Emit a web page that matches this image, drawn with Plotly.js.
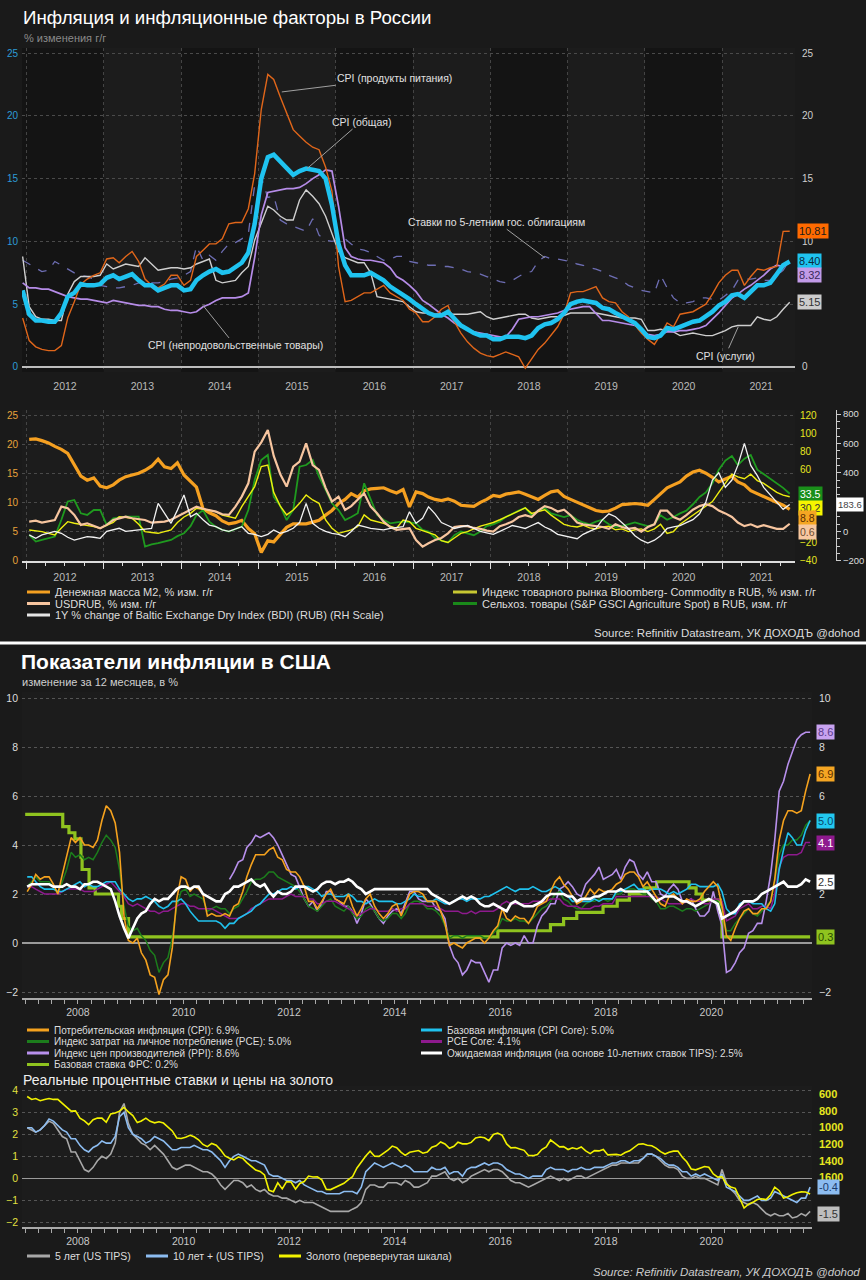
<!DOCTYPE html>
<html><head><meta charset="utf-8">
<script src="https://cdn.plot.ly/plotly-3.0.1.min.js"></script>
<style>html,body{margin:0;padding:0;background:#1a1a1a;}#chart{width:866px;height:1280px;}</style>
</head><body><div id="chart"></div>
<script>
// ===== Russia: CPI panel (monthly, Dec 2011 - Nov 2021) =====
const ruCpiTotal = [6.1,
4.2,3.7,3.7,3.6,3.6,4.3,5.6,5.9,6.6,6.5,6.5,6.6,
7.1,7.3,7.0,7.2,7.4,6.9,6.5,6.5,6.1,6.3,6.5,6.5,
6.1,6.2,6.9,7.3,7.6,7.8,7.5,7.6,8.0,8.3,9.1,11.4,
15.0,16.7,16.9,16.4,15.8,15.3,15.6,15.8,15.7,15.6,15.0,12.9,
9.8,8.1,7.3,7.3,7.3,7.5,7.2,6.9,6.4,6.1,5.8,5.4,
5.0,4.6,4.3,4.1,4.1,4.4,3.9,3.3,3.0,2.7,2.5,2.5,
2.2,2.2,2.4,2.4,2.4,2.3,2.5,3.1,3.4,3.5,3.8,4.3,
5.0,5.2,5.3,5.2,5.1,4.7,4.6,4.3,4.0,3.8,3.5,3.0,
2.4,2.3,2.5,3.1,3.0,3.2,3.4,3.6,3.7,4.0,4.4,4.9,
5.2,5.7,5.8,5.5,6.0,6.5,6.5,6.7,7.4,8.1,8.4];
const ruCpiFood = [3.9,
2.1,1.6,1.4,1.3,1.3,1.7,3.9,5.2,6.6,7.0,7.3,7.5,
8.6,8.7,8.3,8.8,9.2,8.4,7.0,6.5,6.3,6.6,7.3,7.3,
6.5,6.9,8.8,9.3,9.8,9.8,10.2,11.4,11.5,11.5,12.6,15.4,
20.5,23.3,22.9,21.5,20.2,18.9,18.4,17.9,17.5,17.3,15.9,14.0,
8.0,5.2,5.3,5.6,5.9,5.9,6.2,6.5,5.9,5.6,5.3,4.6,
4.3,3.6,3.6,4.0,4.6,4.9,3.6,2.7,2.0,1.5,1.1,0.9,
0.8,1.0,1.2,1.0,0.8,-0.1,0.6,1.4,1.9,2.5,3.2,4.2,
5.9,6.0,6.0,6.2,6.4,5.5,5.2,5.1,4.4,4.0,3.3,2.7,
2.2,1.8,2.6,3.5,3.2,4.2,4.3,4.4,4.7,5.0,5.8,6.7,
7.3,7.7,7.7,6.5,7.2,7.8,7.7,7.9,8.0,10.8,10.81];
const ruCpiNonfood = [6.7,
6.3,6.3,6.2,6.2,6.0,5.8,5.6,5.5,5.4,5.4,5.3,5.2,
5.1,5.3,5.2,5.1,5.0,4.9,4.9,4.8,4.8,4.6,4.5,4.5,
4.4,4.3,4.4,4.8,5.0,5.3,5.5,5.5,5.5,5.6,5.9,8.7,
12.1,13.9,14.0,14.1,14.2,14.2,14.3,14.6,15.0,15.3,15.7,15.6,
12.8,9.5,8.8,8.6,8.5,8.5,8.4,8.3,7.9,7.2,6.9,6.5,
6.0,5.3,5.0,4.6,4.2,3.9,3.5,3.2,3.0,2.8,2.7,2.6,
2.5,2.4,2.4,3.0,3.8,3.9,4.0,4.0,4.1,4.2,4.3,4.5,
4.6,4.7,4.8,4.8,4.3,3.7,3.7,3.6,3.5,3.4,3.3,3.0,
2.6,2.5,2.6,2.8,2.8,2.9,2.9,3.0,3.1,3.3,3.8,4.3,
4.9,5.5,5.8,6.2,6.5,6.9,7.3,7.8,8.1,8.0,8.32];
const ruCpiServices = [8.8,
4.8,4.0,3.8,3.8,3.7,3.7,5.8,6.8,7.2,7.2,7.2,7.3,
8.2,7.8,8.0,8.2,8.1,8.0,8.7,8.2,7.7,7.8,7.9,7.9,
7.8,7.9,8.2,8.4,8.6,6.9,6.7,6.8,6.9,7.5,8.0,10.1,
11.5,12.8,12.5,12.0,11.7,11.7,13.3,14.1,13.6,13.0,12.0,10.6,
9.2,8.7,8.5,8.3,8.3,7.5,5.6,5.5,5.4,5.3,5.2,4.8,
4.4,4.3,4.3,4.2,4.2,4.2,4.2,4.2,4.2,4.3,4.4,4.0,
3.8,3.9,4.0,4.1,4.2,4.2,3.9,3.8,3.9,4.0,4.0,4.1,
4.3,4.3,4.3,4.3,4.3,4.2,4.1,4.0,3.9,3.9,3.9,3.8,
2.9,2.9,3.0,2.9,2.8,2.5,2.6,2.7,2.6,2.5,2.5,2.7,
2.9,3.2,3.3,3.3,3.3,4.0,3.8,3.7,4.0,4.6,5.15];
const ruBond5y = [8.5,
8.2,7.9,7.6,7.7,8.4,8.1,7.8,7.5,7.3,7.2,7.0,6.5,
6.4,6.3,6.3,6.4,6.5,6.7,6.7,6.7,6.7,6.8,7.0,7.1,
7.3,7.6,9.6,8.5,8.9,8.5,9.2,9.8,9.9,10.2,10.6,14.5,
15.1,13.5,13.6,11.7,11.4,11.2,11.0,10.8,11.8,10.5,10.1,10.0,
10.1,10.2,9.8,9.4,9.3,9.1,8.8,8.5,8.6,8.8,8.8,8.4,
8.3,8.2,8.1,8.1,8.0,8.0,7.9,7.8,7.6,7.5,7.4,7.2,
7.0,6.8,6.7,6.9,7.2,7.5,7.6,8.4,8.8,8.6,8.6,8.5,
8.4,8.2,8.1,7.9,7.8,7.6,7.3,7.1,6.9,6.5,6.3,6.1,
6.0,5.9,7.3,6.3,5.5,5.1,5.1,5.2,5.5,5.5,5.4,5.3,
5.7,6.1,6.9,7.0,7.0,7.1,6.9,6.9,7.3,7.7,8.5];

// ===== Russia: factors panel (monthly, Jan 2012 - Nov 2021) =====
const ruM2 = [20.8,20.9,20.6,20.2,19.6,19.1,18.4,16.5,14.5,13.8,14.2,12.8,
12.5,13.0,13.8,14.4,14.7,15.0,15.5,16.2,17.4,16.1,15.8,16.8,
14.7,13.5,12.6,8.9,8.2,7.7,6.8,6.3,6.5,6.9,5.5,4.6,
1.4,3.4,3.2,4.5,5.7,6.3,6.3,6.3,6.6,6.9,7.8,8.6,
9.8,10.5,11.5,10.9,12.0,12.3,12.4,12.5,12.0,11.6,12.2,9.2,
11.8,11.5,10.9,10.5,10.3,10.6,10.2,9.5,9.4,9.3,10.0,10.5,
11.2,11.0,11.4,11.6,11.8,11.4,11.0,10.5,11.2,11.8,12.0,11.0,
10.5,10.0,9.5,9.0,8.6,8.4,8.5,9.0,9.6,9.7,9.8,9.7,
9.5,10.5,11.5,12.5,13.0,13.5,14.5,15.2,15.5,15.0,14.3,13.5,
14.0,14.5,13.5,13.0,12.0,11.5,11.0,10.5,10.0,9.5,8.8];
const ruUsdRub = [3.0,4.0,1.8,3.0,4.7,19.4,17.6,10.3,-0.7,1.1,-2.0,-4.4,
-0.7,4.7,6.5,8.4,6.6,5.5,4.7,1.8,2.5,2.9,5.0,8.4,
12.0,15.7,19.4,17.0,15.7,13.9,11.0,10.3,19.4,30.4,45.0,79.8,
90.0,103.5,75.0,55.0,41.4,63.3,68.8,88.9,65.0,59.7,40.0,25.0,
30.4,15.7,20.0,26.7,34.1,19.4,12.1,2.9,-3.0,-6.2,-5.0,-4.4,
-17.2,-24.5,-20.8,-17.2,-15.0,-10.0,-3.0,-2.0,-2.0,-4.0,-5.0,-7.0,
-8.0,-2.0,0.0,3.0,8.0,10.0,8.0,15.0,20.0,18.0,14.0,16.0,
10.0,2.0,0.0,-1.0,-2.0,-3.0,-5.0,0.0,-3.0,-5.0,-4.0,-8.0,
-3.0,0.0,15.0,15.0,8.0,5.0,10.0,16.0,20.0,22.0,20.0,15.0,
12.0,8.0,2.0,-2.0,0.0,-3.0,-1.0,-3.0,-5.0,-5.0,0.6];
const ruBcomRub = [-6.2,-7.0,-8.0,-10.0,-11.7,-4.0,2.9,1.1,0.0,-0.7,-2.5,-4.4,
-1.5,2.0,8.4,7.5,6.6,0.0,-8.0,-9.0,-9.9,-8.0,-6.2,2.0,
8.0,12.0,17.6,16.5,15.0,13.9,10.0,8.0,6.6,19.4,30.0,41.4,
63.3,65.1,35.0,20.0,10.3,15.7,23.0,32.2,26.7,23.0,4.7,-4.4,
-9.9,-8.0,-6.2,-2.5,10.3,4.7,3.0,1.1,-2.0,-4.4,4.7,3.0,
-4.4,-7.0,-9.9,-11.7,-18.0,-20.0,-15.0,-10.0,-8.0,-5.0,-2.0,0.0,
2.0,5.0,8.0,12.0,15.0,18.0,12.0,14.0,16.0,10.0,5.0,0.0,
-2.0,-3.0,-1.0,-4.0,-5.0,-3.0,-2.0,-6.0,-5.0,-8.0,-6.0,-5.0,
-8.0,-5.0,0.0,-10.0,-8.0,0.0,5.0,10.0,15.0,20.0,25.0,35.0,
45.0,55.0,52.0,50.0,55.0,48.0,45.0,40.0,35.0,32.0,30.2];
const ruAgriRub = [-11.7,-19.0,-17.0,-15.3,-13.5,5.0,25.0,26.7,12.1,10.3,15.7,15.7,
-0.7,6.6,7.5,8.4,8.4,8.4,-24.5,-22.0,-20.8,-19.0,-17.2,-13.0,
-9.9,-2.0,10.0,15.7,2.9,-3.0,-6.0,-8.0,-5.0,-2.5,15.7,48.7,
70.6,76.1,30.0,20.0,4.7,15.7,63.3,65.1,70.6,52.3,37.7,23.0,
15.7,4.7,8.0,12.1,45.0,26.7,10.3,5.0,1.1,2.0,2.9,2.0,
1.1,-6.2,-8.0,-15.0,-18.0,-20.0,-12.0,-8.0,-10.0,-12.0,-8.0,-2.0,
0.0,3.0,8.0,12.0,15.0,18.0,10.0,15.0,18.0,12.0,10.0,8.0,
10.0,5.0,2.0,0.0,3.0,5.0,0.0,-3.0,-2.0,0.0,2.0,0.0,
-2.0,0.0,10.0,5.0,8.0,12.0,15.0,22.0,30.0,35.0,45.0,60.0,
70.0,75.0,65.0,72.0,76.0,60.0,55.0,50.0,45.0,40.0,33.5];
const ruBdiRub = [-24,-47,-24,-10,0,-13,-40,-59,-45,-36,-40,-47,
0,10,21,0,5,10,15,21,191,123,55,145,
248,100,123,80,43,32,10,0,15,32,-13,-20,
-36,-20,10,-13,0,21,60,191,55,21,0,-13,
-20,-36,0,43,32,20,15,10,20,25,32,134,
55,89,168,120,60,40,20,30,40,20,0,-10,
-20,0,20,40,30,20,40,60,30,10,-20,-30,
-40,-50,-20,0,20,80,120,100,60,20,-30,-60,
-80,-60,-30,20,30,40,60,80,120,200,350,400,
300,350,450,600,450,380,300,250,200,150,183.6];

// ===== USA: inflation panel (monthly, Jan 2007 - Nov 2021) =====
const usCpi = [2.1,2.4,2.8,2.6,2.7,2.7,2.4,2.0,2.8,3.5,4.3,4.1,
4.3,4.0,4.0,3.9,4.2,5.0,5.6,5.4,4.9,3.7,1.1,0.1,
0.0,0.2,-0.4,-0.7,-1.3,-1.4,-2.1,-1.5,-1.3,-0.2,1.8,2.7,
2.6,2.1,2.3,2.2,2.0,1.1,1.2,1.1,1.1,1.2,1.1,1.5,
1.6,2.1,2.7,3.2,3.6,3.6,3.6,3.8,3.9,3.5,3.4,3.0,
2.9,2.9,2.7,2.3,1.7,1.7,1.4,1.7,2.0,2.2,1.8,1.7,
1.6,2.0,1.5,1.1,1.4,1.8,2.0,1.5,1.2,1.0,1.2,1.5,
1.6,1.1,1.5,2.0,2.1,2.1,2.0,1.7,1.7,1.7,1.3,0.8,
-0.1,0.0,-0.1,-0.2,0.0,0.1,0.2,0.2,0.0,0.2,0.5,0.7,
1.4,1.0,0.9,1.1,1.0,1.0,0.8,1.1,1.5,1.6,1.7,2.1,
2.5,2.7,2.4,2.2,1.9,1.6,1.7,1.9,2.2,2.0,2.2,2.1,
2.1,2.2,2.4,2.5,2.8,2.9,2.9,2.7,2.3,2.5,2.2,1.9,
1.6,1.5,1.9,2.0,1.8,1.6,1.8,1.7,1.7,1.8,2.1,2.3,
2.5,2.3,1.5,0.3,0.1,0.6,1.0,1.3,1.4,1.2,1.2,1.4,
1.4,1.7,2.6,4.2,5.0,5.4,5.4,5.3,5.4,6.2,6.9];
const usCpiCore = [2.7,2.7,2.5,2.3,2.2,2.2,2.2,2.1,2.1,2.2,2.3,2.4,
2.5,2.3,2.4,2.3,2.3,2.4,2.5,2.5,2.5,2.2,2.0,1.8,
1.7,1.8,1.8,1.9,1.8,1.7,1.5,1.4,1.5,1.7,1.7,1.8,
1.6,1.3,1.1,0.9,0.9,0.9,0.9,0.9,0.8,0.6,0.8,0.8,
1.0,1.1,1.2,1.3,1.5,1.6,1.8,2.0,2.0,2.1,2.2,2.2,
2.3,2.2,2.3,2.3,2.3,2.2,2.1,1.9,2.0,2.0,1.9,1.9,
1.9,2.0,1.9,1.7,1.7,1.6,1.7,1.8,1.7,1.7,1.7,1.7,
1.6,1.6,1.7,1.8,2.0,1.9,1.9,1.7,1.7,1.8,1.7,1.6,
1.6,1.7,1.8,1.8,1.7,1.8,1.8,1.8,1.9,1.9,2.0,2.1,
2.2,2.3,2.2,2.1,2.2,2.2,2.2,2.3,2.2,2.1,2.1,2.2,
2.3,2.2,2.0,1.9,1.7,1.7,1.7,1.7,1.7,1.8,1.7,1.8,
1.8,1.8,2.1,2.1,2.2,2.3,2.4,2.2,2.2,2.1,2.2,2.2,
2.2,2.1,2.0,2.1,2.0,2.1,2.2,2.4,2.4,2.3,2.3,2.3,
2.3,2.4,2.1,1.4,1.2,1.2,1.6,1.7,1.7,1.6,1.6,1.6,
1.4,1.3,1.6,3.0,3.8,4.5,4.3,4.0,4.0,4.6,5.0];
const usPce = [2.3,2.5,2.7,2.5,2.5,2.5,2.3,2.0,2.5,3.0,3.7,3.5,
3.6,3.4,3.5,3.4,3.7,4.1,4.4,4.2,3.9,3.0,1.5,0.7,
0.5,0.6,0.3,0.1,-0.3,-0.5,-1.2,-0.8,-0.6,0.2,1.5,2.1,
2.2,1.9,2.0,1.9,1.8,1.3,1.4,1.5,1.4,1.4,1.2,1.4,
1.5,1.8,2.1,2.5,2.6,2.6,2.7,2.9,2.9,2.7,2.6,2.5,
2.4,2.3,2.1,1.8,1.5,1.4,1.3,1.5,1.7,1.8,1.5,1.4,
1.3,1.5,1.2,1.0,1.1,1.4,1.5,1.3,1.0,0.9,1.0,1.2,
1.2,1.0,1.2,1.6,1.7,1.7,1.6,1.4,1.4,1.3,1.1,0.7,
0.2,0.3,0.3,0.2,0.3,0.3,0.3,0.3,0.2,0.2,0.4,0.6,
1.0,0.9,0.9,1.0,0.9,0.9,0.8,1.0,1.2,1.4,1.5,1.7,
2.0,2.1,1.8,1.7,1.5,1.4,1.4,1.6,1.7,1.7,1.8,1.8,
1.7,1.8,2.0,2.0,2.2,2.2,2.2,2.1,2.0,2.0,1.8,1.7,
1.4,1.4,1.5,1.5,1.4,1.3,1.4,1.4,1.3,1.4,1.5,1.6,
1.8,1.7,1.3,0.5,0.5,0.8,1.0,1.2,1.4,1.2,1.1,1.3,
1.5,1.7,2.5,3.6,4.0,4.0,4.2,4.2,4.4,4.8,5.0];
const usPceCore = [2.3,2.3,2.2,2.1,2.0,2.0,2.0,2.0,2.1,2.2,2.2,2.2,
2.2,2.1,2.1,2.1,2.2,2.3,2.4,2.5,2.3,2.1,1.9,1.6,
1.5,1.6,1.5,1.4,1.3,1.3,1.2,1.3,1.3,1.4,1.5,1.6,
1.6,1.5,1.5,1.4,1.4,1.4,1.4,1.3,1.2,1.1,1.0,1.0,
1.0,1.1,1.2,1.4,1.5,1.6,1.7,1.8,1.8,1.8,1.8,1.9,
2.0,1.9,1.9,1.9,1.8,1.8,1.6,1.6,1.7,1.7,1.7,1.6,
1.5,1.4,1.3,1.1,1.2,1.3,1.4,1.4,1.3,1.3,1.3,1.4,
1.3,1.4,1.4,1.6,1.6,1.6,1.6,1.5,1.5,1.5,1.4,1.3,
1.3,1.3,1.3,1.2,1.2,1.3,1.2,1.3,1.3,1.3,1.3,1.4,
1.6,1.7,1.6,1.6,1.6,1.6,1.6,1.7,1.7,1.7,1.7,1.8,
1.8,1.8,1.6,1.5,1.5,1.5,1.4,1.4,1.4,1.5,1.5,1.6,
1.6,1.6,1.9,1.9,1.9,1.9,1.9,1.9,1.9,1.9,1.9,1.9,
1.8,1.7,1.6,1.6,1.6,1.6,1.7,1.8,1.7,1.7,1.6,1.6,
1.8,1.8,1.7,0.9,1.0,1.1,1.4,1.5,1.6,1.4,1.4,1.5,
1.5,1.4,2.0,3.1,3.5,3.6,3.6,3.6,3.7,4.1,4.1];
// PPI final demand, from Nov 2010
const usPpi = [2.6,2.9,
3.3,3.4,3.9,4.1,4.4,4.3,4.4,4.5,4.3,4.0,3.6,3.2,
2.8,2.7,2.3,1.8,1.5,1.7,1.3,1.6,2.1,2.1,1.8,1.7,
1.5,1.5,1.3,0.8,1.2,1.8,1.6,1.3,1.0,0.8,1.1,1.3,
1.4,1.2,1.6,2.1,2.1,1.8,1.7,1.7,1.7,1.4,1.3,1.0,
-0.1,-0.6,-0.8,-1.3,-1.1,-0.7,-0.8,-0.8,-1.2,-1.6,-1.1,-1.1,
-0.2,0.0,-0.1,0.0,-0.1,0.3,0.0,0.0,0.7,1.1,1.3,1.6,
1.6,2.2,2.3,2.5,2.3,2.0,1.9,2.4,2.6,2.8,3.1,2.6,
2.7,2.8,3.0,2.6,3.1,3.4,3.3,2.8,2.6,2.9,2.5,2.5,
2.0,1.9,2.2,2.4,2.2,1.7,1.7,1.8,1.4,1.1,1.1,1.3,
2.1,1.3,0.7,-1.2,-1.1,-0.8,-0.4,-0.2,0.4,0.5,0.8,0.8,
1.7,2.8,4.2,6.2,6.6,7.3,7.8,8.3,8.5,8.6,8.6];
const usBreakeven10y = [2.3,2.4,2.4,2.4,2.4,2.4,2.3,2.3,2.3,2.4,2.3,2.3,
2.2,2.4,2.4,2.5,2.5,2.4,2.3,2.2,1.7,1.1,0.6,0.2,
0.6,1.0,1.2,1.3,1.6,1.8,1.7,1.8,1.8,2.0,2.2,2.3,
2.3,2.2,2.3,2.3,2.0,1.9,1.8,1.7,1.7,2.0,2.1,2.3,
2.3,2.4,2.5,2.6,2.4,2.3,2.4,2.1,1.9,2.1,2.0,2.0,
2.1,2.3,2.3,2.3,2.2,2.1,2.2,2.4,2.5,2.5,2.4,2.5,
2.5,2.6,2.5,2.3,2.2,2.0,2.1,2.2,2.2,2.2,2.2,2.2,
2.2,2.2,2.2,2.2,2.2,2.2,2.2,2.2,2.0,1.9,1.8,1.7,
1.6,1.7,1.8,1.9,1.8,1.9,1.8,1.6,1.5,1.5,1.6,1.5,
1.4,1.3,1.6,1.7,1.6,1.5,1.5,1.5,1.6,1.7,1.9,2.0,
2.0,2.0,2.0,1.9,1.9,1.7,1.8,1.8,1.8,1.9,1.9,2.0,
2.1,2.1,2.1,2.2,2.1,2.1,2.1,2.1,2.1,2.1,1.9,1.7,
1.8,1.9,1.9,1.9,1.8,1.7,1.7,1.6,1.5,1.6,1.7,1.8,
1.7,1.6,1.0,1.1,1.2,1.3,1.5,1.7,1.7,1.7,1.8,2.0,
2.1,2.2,2.3,2.4,2.5,2.3,2.3,2.3,2.4,2.6,2.5];
const fedDates = ['2007-01-01','2007-09-18','2007-10-31','2007-12-11','2008-01-22','2008-01-30','2008-03-18','2008-04-30','2008-10-08','2008-10-29','2008-12-16','2015-12-16','2016-12-14','2017-03-15','2017-06-14','2017-12-13','2018-03-21','2018-06-13','2018-09-26','2018-12-19','2019-07-31','2019-09-18','2019-10-30','2020-03-03','2020-03-15','2021-11-15'];
const fedRate = [5.25,4.75,4.5,4.25,3.5,3.0,2.25,2.0,1.5,1.0,0.25,0.5,0.75,1.0,1.25,1.5,1.75,2.0,2.25,2.5,2.25,2.0,1.75,1.25,0.25,0.25];

// ===== USA: real rates & gold (monthly, Jan 2007 - Nov 2021) =====
const usTips5y = [2.3,2.2,2.1,2.2,2.4,2.6,2.5,2.2,1.9,1.8,1.2,1.2,
0.8,0.4,0.3,0.5,0.8,1.0,0.9,1.1,1.6,3.0,3.4,2.5,
2.0,1.8,1.6,1.5,1.3,1.5,1.3,1.1,0.8,0.5,0.4,0.5,
0.6,0.6,0.5,0.4,0.3,0.3,0.2,0.0,-0.3,-0.5,-0.3,-0.1,
-0.1,-0.2,-0.4,-0.3,-0.5,-0.6,-0.5,-0.7,-0.8,-0.8,-0.9,-0.9,
-1.0,-1.1,-1.0,-1.1,-1.1,-1.1,-1.2,-1.3,-1.4,-1.5,-1.5,-1.5,
-1.5,-1.5,-1.4,-1.3,-1.1,-0.5,-0.3,-0.3,-0.4,-0.4,-0.2,-0.2,
-0.2,-0.3,-0.1,-0.2,-0.4,-0.4,-0.3,-0.2,0.1,0.1,0.2,0.3,
0.0,-0.1,0.0,-0.2,-0.1,0.1,0.2,0.3,0.4,0.3,0.4,0.4,
0.3,0.1,-0.1,-0.2,-0.2,-0.3,-0.4,-0.3,-0.2,-0.1,0.0,0.1,
0.0,-0.1,0.0,-0.1,0.0,0.1,0.1,0.0,0.1,0.2,0.3,0.4,
0.5,0.6,0.6,0.7,0.7,0.7,0.7,0.7,0.9,1.1,1.1,1.0,
0.8,0.6,0.5,0.5,0.4,0.1,0.0,0.0,0.1,0.0,0.0,-0.1,
-0.2,-0.3,0.4,-0.2,-0.5,-0.7,-1.0,-1.1,-1.2,-1.1,-1.2,-1.4,
-1.6,-1.7,-1.6,-1.7,-1.7,-1.6,-1.8,-1.75,-1.6,-1.7,-1.5];
const usTips10y = [2.3,2.3,2.1,2.2,2.4,2.7,2.6,2.4,2.2,2.1,1.8,1.8,
1.5,1.3,1.2,1.4,1.5,1.7,1.6,1.6,1.9,2.8,3.0,2.3,
2.0,1.9,1.8,1.6,1.7,1.9,1.8,1.7,1.5,1.3,1.3,1.4,
1.4,1.4,1.5,1.4,1.3,1.3,1.2,1.0,0.8,0.5,0.8,1.0,
1.1,1.0,0.9,0.8,0.8,0.7,0.6,0.2,0.1,0.1,0.0,-0.1,
-0.1,-0.2,-0.1,-0.3,-0.4,-0.5,-0.6,-0.6,-0.7,-0.7,-0.7,-0.7,
-0.6,-0.6,-0.6,-0.7,-0.4,0.3,0.5,0.7,0.6,0.5,0.6,0.7,
0.6,0.5,0.6,0.5,0.3,0.3,0.3,0.3,0.5,0.4,0.4,0.5,
0.2,0.3,0.3,0.1,0.4,0.5,0.5,0.6,0.7,0.6,0.7,0.7,
0.6,0.4,0.3,0.2,0.2,0.1,0.0,0.1,0.1,0.1,0.4,0.5,
0.4,0.4,0.4,0.3,0.4,0.4,0.5,0.4,0.4,0.5,0.5,0.5,
0.6,0.7,0.7,0.8,0.8,0.7,0.8,0.8,0.9,1.1,1.1,1.0,
0.9,0.7,0.6,0.6,0.5,0.3,0.3,0.1,0.2,0.1,0.2,0.1,
0.0,-0.1,0.2,-0.4,-0.5,-0.6,-0.8,-1.0,-1.0,-0.9,-0.8,-1.0,
-1.0,-0.9,-0.6,-0.7,-0.8,-0.9,-1.0,-1.1,-0.9,-0.9,-0.4];
const usGold = [630,665,655,680,665,655,665,665,712,754,806,803,
889,922,968,909,889,889,939,839,829,806,760,816,
858,943,924,890,928,946,934,949,996,1043,1127,1134,
1118,1095,1113,1149,1205,1232,1193,1215,1271,1343,1370,1391,
1356,1372,1424,1473,1512,1529,1572,1756,1772,1666,1739,1652,
1656,1742,1674,1650,1585,1596,1594,1630,1745,1747,1721,1688,
1671,1627,1593,1487,1414,1343,1286,1347,1349,1316,1275,1225,
1244,1300,1336,1299,1287,1279,1311,1296,1239,1222,1176,1200,
1251,1227,1178,1198,1199,1181,1128,1117,1125,1159,1086,1068,
1097,1199,1246,1242,1260,1276,1337,1340,1326,1267,1236,1152,
1192,1234,1231,1266,1246,1260,1236,1283,1315,1280,1283,1265,
1331,1331,1325,1335,1303,1282,1238,1202,1198,1215,1221,1250,
1291,1320,1300,1286,1284,1359,1413,1500,1510,1495,1471,1480,
1560,1597,1592,1683,1716,1732,1847,1968,1921,1900,1866,1858,
1867,1808,1718,1760,1850,1834,1807,1785,1775,1776,1800];

// ===== helpers =====
function monthDates(y, m, n) {
  const out = [];
  for (let i = 0; i < n; i++) {
    const k = m - 1 + i, yy = y + Math.floor(k / 12), mm = k % 12 + 1;
    out.push(yy + '-' + String(mm).padStart(2, '0') + '-15');
  }
  return out;
}
const W = 866, H = 1280;
const PX = v => v / W, PY = v => 1 - v / H;
const F = 'Liberation Sans, Arial, sans-serif';
const N = 'Liberation Sans Narrow, Arial Narrow, Liberation Sans, Arial, sans-serif';

const dRu1 = monthDates(2011, 12, ruCpiTotal.length);
const dRu2 = monthDates(2012, 1, ruM2.length);
const dUs = monthDates(2007, 1, usCpi.length);
const dPpi = monthDates(2010, 11, usPpi.length);

function ln(x, y, xa, ya, color, width, extra) {
  return Object.assign({type: 'scatter', mode: 'lines', x: x, y: y, xaxis: xa, yaxis: ya,
    line: {color: color, width: width}, hoverinfo: 'skip'}, extra || {});
}

const traces = [
  ln(dRu1, ruBond5y, 'x', 'y', '#6e6eb4', 1.3, {line: {color: '#6e6eb4', width: 1.3, dash: 'dash'}}),
  ln(dRu1, ruCpiServices, 'x', 'y', '#cfcfcf', 1.4),
  ln(dRu1, ruCpiNonfood, 'x', 'y', '#b68ce8', 1.7),
  ln(dRu1, ruCpiFood, 'x', 'y', '#e0661a', 1.4),
  ln(dRu1, ruCpiTotal, 'x', 'y2', '#1fc3f0', 4.5),
  ln(dRu2, ruM2, 'x2', 'y3', '#f5a021', 3.2),
  ln(dRu2, ruBdiRub, 'x2', 'y5', '#f2f2f2', 1.3),
  ln(dRu2, ruAgriRub, 'x2', 'y4', '#1f9a1f', 1.8),
  ln(dRu2, ruBcomRub, 'x2', 'y4', '#eeee10', 1.4),
  ln(dRu2, ruUsdRub, 'x2', 'y4', '#f7c59f', 2.2),
  ln(fedDates, fedRate, 'x3', 'y6', '#8fc31f', 3.2, {line: {color: '#8fc31f', width: 3.2, shape: 'hv'}}),
  ln(dPpi, usPpi, 'x3', 'y6', '#b890ec', 1.6),
  ln(dUs, usPce, 'x3', 'y6', '#1c7d1c', 1.5),
  ln(dUs, usPceCore, 'x3', 'y6', '#8e1a8e', 1.5),
  ln(dUs, usCpiCore, 'x3', 'y6', '#20c2ee', 1.6),
  ln(dUs, usCpi, 'x3', 'y7', '#f5a21e', 1.6),
  ln(dUs, usBreakeven10y, 'x3', 'y7', '#ffffff', 2.6),
  ln(dUs, usTips5y, 'x4', 'y8', '#a8a8a8', 1.6),
  ln(dUs, usTips10y, 'x4', 'y8', '#8cbcf0', 1.6),
  ln(dUs, usGold, 'x4', 'y9', '#f2f200', 1.6)
];

const tickF = (c, s) => ({family: N, size: s || 11, color: c});
const layout = {
  width: W, height: H, margin: {l: 0, r: 0, t: 0, b: 0},
  paper_bgcolor: '#1a1a1a', plot_bgcolor: '#1c1c1c', showlegend: false,
  font: {family: F, color: '#ddd'},
  xaxis: {domain: [PX(22), PX(795)], anchor: 'y', type: 'date', range: ['2011-12-12', '2021-12-10'],
    dtick: 'M12', tick0: '2012-01-01', ticklabelmode: 'period', tickformat: '%Y', ticks: '',
    showgrid: true, gridcolor: '#444', griddash: 'dot', zeroline: false, showline: false,
    tickfont: tickF('#bbb', 10.5), ticklabelstandoff: 6},
  yaxis: {domain: [PY(372), PY(48)], anchor: 'x', range: [-0.4, 25.4], tickvals: [0, 5, 10, 15, 20, 25],
    tickfont: {family: F, size: 10, color: '#2d9bd6'}, showgrid: true, gridcolor: '#4a4a4a', griddash: 'dot',
    zeroline: true, zerolinecolor: '#bdbdbd', zerolinewidth: 1.5, ticks: '', ticklabelstandoff: 3},
  yaxis2: {overlaying: 'y', anchor: 'x', side: 'right', range: [-0.4, 25.4], tickvals: [0, 10, 15, 20, 25],
    tickfont: {family: F, size: 10, color: '#cfcfcf'}, showgrid: false, zeroline: false, ticks: '', ticklabelstandoff: 6},
  xaxis2: {domain: [PX(22), PX(795)], anchor: 'y3', type: 'date', range: ['2011-12-12', '2021-12-10'],
    dtick: 'M12', tick0: '2012-01-01', ticklabelmode: 'period', tickformat: '%Y',
    showgrid: true, gridcolor: '#444', griddash: 'dot', zeroline: false,
    showline: true, linecolor: '#dddddd', linewidth: 1.5, ticks: 'outside', ticklen: 6, tickcolor: '#ddd',
    minor: {dtick: 'M3', ticks: 'outside', ticklen: 3, tickcolor: '#ddd'},
    tickfont: tickF('#bbb', 10.5)},
  yaxis3: {domain: [PY(561), PY(410)], anchor: 'x2', range: [-0.08, 25.86], tickvals: [0, 5, 10, 15, 20, 25],
    tickfont: {family: F, size: 10, color: '#e8a33a'}, showgrid: true, gridcolor: '#4a4a4a', griddash: 'dot',
    zeroline: false, ticks: '', ticklabelstandoff: 3},
  yaxis4: {overlaying: 'y3', anchor: 'x2', side: 'right', range: [-40.3, 125.5],
    tickvals: [-40, -20, 60, 80, 100, 120], tickfont: {family: F, size: 10, color: '#e6e620'},
    showgrid: false, zeroline: false, ticks: '', ticklabelstandoff: 4},
  yaxis5: {overlaying: 'y3', anchor: 'free', position: PX(836), side: 'right', range: [-201.8, 827.5],
    tickvals: [-200, 0, 400, 600, 800], tickfont: {family: F, size: 9.5, color: '#dddddd'},
    showgrid: false, zeroline: false, showline: true, linecolor: '#cccccc', ticks: 'outside', ticklen: 4, tickcolor: '#ccc',
    minor: {dtick: 50, ticks: 'outside', ticklen: 3, tickcolor: '#ccc'}},
  xaxis3: {domain: [PX(22), PX(812)], anchor: 'y6', type: 'date', range: ['2006-12-10', '2021-11-28'],
    dtick: 'M24', tick0: '2008-01-01', tickformat: '%Y', showgrid: false, zeroline: false,
    showline: true, linecolor: '#aaaaaa', linewidth: 1.5, ticks: 'outside', ticklen: 4, tickcolor: '#aaa',
    minor: {dtick: 'M3', ticks: 'outside', ticklen: 4, tickcolor: '#aaa'}, tickfont: tickF('#c8c8c8', 10.5)},
  yaxis6: {domain: [PY(998), PY(692)], anchor: 'x3', range: [-2.245, 10.245], tickvals: [-2, 0, 2, 4, 6, 8, 10],
    tickfont: {family: F, size: 10.5, color: '#dddddd'}, showgrid: true, gridcolor: '#555', griddash: 'dot',
    zeroline: true, zerolinecolor: '#9a9a9a', zerolinewidth: 1.5, ticks: '', ticklabelstandoff: 3},
  yaxis7: {overlaying: 'y6', anchor: 'x3', side: 'right', range: [-2.245, 10.245], tickvals: [-2, 2, 6, 8, 10],
    tickfont: {family: F, size: 10.5, color: '#dddddd'}, showgrid: false, zeroline: false, ticks: '', ticklabelstandoff: 6},
  xaxis4: {domain: [PX(22), PX(812)], anchor: 'y8', type: 'date', range: ['2006-12-10', '2021-11-28'],
    dtick: 'M24', tick0: '2008-01-01', tickformat: '%Y', showgrid: false, zeroline: false,
    showline: true, linecolor: '#aaaaaa', linewidth: 1.5, ticks: 'outside', ticklen: 4, tickcolor: '#aaa',
    minor: {dtick: 'M3', ticks: 'outside', ticklen: 4, tickcolor: '#aaa'}, tickfont: tickF('#c8c8c8', 10.5)},
  yaxis8: {domain: [PY(1227), PY(1086)], anchor: 'x4', range: [-2.21, 4.195], tickvals: [-2, -1, 0, 1, 2, 3, 4],
    tickfont: {family: F, size: 10.5, color: '#e0e040'}, showgrid: true, gridcolor: '#555', griddash: 'dot',
    zeroline: true, zerolinecolor: '#9a9a9a', zerolinewidth: 1.5, ticks: '', ticklabelstandoff: 3},
  yaxis9: {overlaying: 'y8', anchor: 'x4', side: 'right', range: [2196, 504],
    tickvals: [600, 800, 1000, 1200, 1400, 1600, 2200],
    tickfont: {family: F, size: 11, color: '#e6e620', weight: 'bold'}, showgrid: false, zeroline: false, ticks: '', ticklabelstandoff: 6},
  shapes: [], annotations: []
};

[2012, 2014, 2016, 2018, 2020].forEach(y => {
  layout.shapes.push({type: 'rect', xref: 'x', yref: 'y domain', x0: (y === 2012 ? '2011-12-12' : y + '-01-01'),
    x1: (y + 1) + '-01-01', y0: 0, y1: 1, fillcolor: '#141414', line: {width: 0}, layer: 'below'});
});
layout.shapes.push({type: 'line', xref: 'paper', yref: 'paper', x0: 0, x1: 1, y0: PY(643), y1: PY(643),
  line: {color: '#ffffff', width: 3}});

const A = layout.annotations;
function txt(x, y, text, size, color, opts) {
  A.push(Object.assign({xref: 'paper', yref: 'paper', x: PX(x), y: PY(y), text: text, showarrow: false,
    xanchor: 'left', yanchor: 'middle', font: {family: F, size: size, color: color}}, opts || {}));
}
function swatch(x0, x1, y, color, w) {
  layout.shapes.push({type: 'line', xref: 'paper', yref: 'paper', x0: PX(x0), x1: PX(x1), y0: PY(y), y1: PY(y),
    line: {color: color, width: w || 3}});
}
txt(21, 17, 'Инфляция и инфляционные факторы в России', 18.7, '#ffffff');
txt(22, 38, '% изменения г/г', 11, '#8a8a8a');
txt(19, 661, '<b>Показатели инфляции в США</b>', 21, '#ffffff');
txt(20, 682, 'изменение за 12 месяцев, в %', 11, '#cfcfcf');
txt(21, 1080, 'Реальные процентные ставки и цены на золото', 14, '#eeeeee');

function callout(x, y, text, ax, ay) {
  A.push({xref: 'x', yref: 'y', x: x, y: y, text: text, showarrow: true, arrowhead: 0, arrowwidth: 1,
    arrowcolor: '#a0a0a0', ax: ax, ay: ay, standoff: 0, font: {family: F, size: 10.5, color: '#e0e0e0'}});
}
callout('2015-04-22', 21.9, 'CPI (продукты питания)', 113, -14);
callout('2015-08-20', 15.8, 'CPI (общая)', 54, -47);
callout('2018-09-15', 8.7, 'Ставки по 5-летним гос. облигациям', -48, -36);
callout('2014-04-15', 4.9, 'CPI (непродовольственные товары)', 32, 40);
callout('2021-03-17', 3.2, 'CPI (услуги)', -13, 29);

function endBox(x, yref, yv, text, bg, fc, yshift, size) {
  A.push({xref: 'paper', yref: yref, x: PX(x), y: yv, text: text, showarrow: false, xanchor: 'left', yanchor: 'middle',
    yshift: yshift || 0, bgcolor: bg, borderpad: 1, font: {family: F, size: size || 11, color: fc}});
}
const last = a => a[a.length - 1];
endBox(797, 'y', last(ruCpiFood), last(ruCpiFood).toFixed(2), '#ff6a00', '#1a1a1a', 0);
endBox(797, 'y', last(ruCpiTotal), last(ruCpiTotal).toFixed(2), '#1fc3f0', '#0b2a3a', 0);
endBox(797, 'y', last(ruCpiNonfood), last(ruCpiNonfood).toFixed(2), '#c29be8', '#3a2a5a', -13);
endBox(797, 'y', last(ruCpiServices), last(ruCpiServices).toFixed(2), '#cccccc', '#333333', 0);

endBox(798, 'y4', last(ruAgriRub), last(ruAgriRub).toFixed(1), '#1a8f1a', '#ffffff', 0, 10.5);
endBox(798, 'y4', last(ruBcomRub), last(ruBcomRub).toFixed(1), '#f5f500', '#333333', -11, 10.5);
endBox(798, 'y3', last(ruM2), last(ruM2).toFixed(1), '#f5a623', '#5a2e00', -9, 10.5);
endBox(798, 'y4', last(ruUsdRub), last(ruUsdRub).toFixed(1), '#f7c7a0', '#6a4a30', -8, 10.5);
endBox(836, 'y5', last(ruBdiRub), last(ruBdiRub).toFixed(1), '#ffffff', '#444444', 0, 9.5);

endBox(816, 'y6', last(usPpi), last(usPpi).toFixed(1), '#c8a2f0', '#5a3a8a', 0);
endBox(816, 'y6', last(usCpi), last(usCpi).toFixed(1), '#f5a623', '#5a2e00', 0);
endBox(816, 'y6', last(usCpiCore), last(usCpiCore).toFixed(1), '#22c8f0', '#0a4a6a', 0);
endBox(816, 'y6', last(usPceCore), last(usPceCore).toFixed(1), '#8e1a8e', '#ffffff', 0);
endBox(816, 'y6', last(usBreakeven10y), last(usBreakeven10y).toFixed(1), '#ffffff', '#333333', 0);
endBox(816, 'y6', 0.25, '0.3', '#8fc31f', '#2a4a00', 0);
endBox(817, 'y8', last(usTips10y), last(usTips10y).toFixed(1), '#8cbcf0', '#1a3a6a', 0);
endBox(817, 'y8', last(usTips5y), last(usTips5y).toFixed(1), '#bdbdbd', '#333333', -3);

function legItem(x0, x1, y, color, text, size, w) {
  swatch(x0, x1, y, color, w || 3);
  txt(x1 + 3, y, text, size, '#dddddd', {font: {family: N, size: size, color: '#dddddd'}});
}
legItem(27, 50, 592, '#f5a021', 'Денежная масса М2, % изм. г/г', 11);
legItem(27, 50, 603.5, '#f7c59f', 'USDRUB, % изм. г/г', 11);
legItem(27, 50, 615, '#e6e6e6', '1Y % change of Baltic Exchange Dry Index (BDI) (RUB) (RH Scale)', 11);
legItem(453, 477, 592, '#c8c832', 'Индекс товарного рынка Bloomberg- Commodity в RUB, % изм. г/г', 11);
legItem(453, 477, 603.5, '#1a8a1a', 'Сельхоз. товары (S&P GSCI Agriculture Spot) в RUB, изм. г/г', 11);
txt(862, 633, 'Source: Refinitiv Datastream, УК ДОХОДЪ @dohod', 11.5, '#dddddd', {xanchor: 'right', font: {family: N, size: 11.5, color: '#dddddd'}});

legItem(27, 49, 1030, '#f5a21e', 'Потребительская инфляция (CPI): 6.9%', 10);
legItem(27, 49, 1041.5, '#1c7d1c', 'Индекс затрат на личное потребление (PCE): 5.0%', 10);
legItem(27, 49, 1053, '#b890ec', 'Индекс цен производителей (PPI): 8.6%', 10);
legItem(27, 49, 1064.5, '#8fc31f', 'Базовая ставка ФРС: 0.2%', 10);
legItem(421, 442, 1030, '#20c2ee', 'Базовая инфляция (CPI Core): 5.0%', 10);
legItem(421, 442, 1041.5, '#8e1a8e', 'PCE Core: 4.1%', 10);
legItem(421, 442, 1053, '#ffffff', 'Ожидаемая инфляция (на основе 10-летних ставок TIPS): 2.5%', 10);

legItem(27, 50, 1256, '#a8a8a8', '5 лет (US TIPS)', 10.5);
legItem(146, 168, 1256, '#8cbcf0', '10 лет + (US TIPS)', 10.5);
legItem(279, 301, 1256, '#f2f200', 'Золото (перевернутая шкала)', 10.5);
txt(862, 1272, '<i>Source: Refinitiv Datastream, УК ДОХОДЪ @dohod</i>', 11.5, '#cccccc', {xanchor: 'right', font: {family: N, size: 11.5, color: '#cccccc'}});

Plotly.newPlot('chart', traces, layout, {staticPlot: true, displayModeBar: false});
</script></body></html>
